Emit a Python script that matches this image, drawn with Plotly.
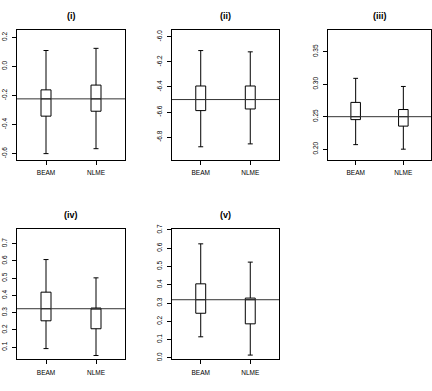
import plotly.graph_objects as go

groups = ["BEAM", "NLME"]
titles = ["(i)", "(ii)", "(iii)", "(iv)", "(v)"]

# per panel: [BEAM, NLME]
lower = [[-0.60, -0.566], [-6.876, -6.853], [0.207, 0.200], [0.092, 0.052], [0.115, 0.015]]
q1 = [[-0.342, -0.308], [-6.588, -6.575], [0.2455, 0.2355], [0.253, 0.207], [0.244, 0.186]]
q3 = [[-0.161, -0.128], [-6.392, -6.392], [0.272, 0.261], [0.419, 0.327], [0.405, 0.327]]
upper = [[0.110, 0.125], [-6.110, -6.120], [0.309, 0.2965], [0.608, 0.502], [0.624, 0.524]]
true_val = [-0.223, -6.50, 0.250, 0.323, 0.318]

yticks = [
    [-0.6, -0.4, -0.2, 0.0, 0.2],
    [-6.8, -6.6, -6.4, -6.2, -6.0],
    [0.20, 0.25, 0.30, 0.35],
    [0.1, 0.2, 0.3, 0.4, 0.5, 0.6, 0.7],
    [0.0, 0.1, 0.2, 0.3, 0.4, 0.5, 0.6, 0.7],
]
yticktext = [
    ["-0.6", "-0.4", "-0.2", "0.0", "0.2"],
    ["-6.8", "-6.6", "-6.4", "-6.2", "-6.0"],
    ["0.20", "0.25", "0.30", "0.35"],
    ["0.1", "0.2", "0.3", "0.4", "0.5", "0.6", "0.7"],
    ["0.0", "0.1", "0.2", "0.3", "0.4", "0.5", "0.6", "0.7"],
]
yranges = [[-0.641, 0.254], [-6.978, -5.943], [0.184, 0.384], [0.029, 0.788], [-0.009, 0.708]]

W, H = 432, 391
# frame pixel boxes (x0, x1, ytop, ybottom)
frames = [(17, 125, 26, 158), (172, 279, 26, 158), (328, 431, 26, 158),
          (17, 125, 228, 361), (172, 279, 228, 361)]
title_y = [12, 12, 12, 214, 214]

fig = go.Figure()
font = "Liberation Sans, Arial, sans-serif"
annotations = []
shapes = []
for i in range(5):
    ax = "" if i == 0 else str(i + 1)
    xa, ya = "x" + ax, "y" + ax
    for j, g in enumerate(groups):
        fig.add_trace(go.Box(
            x=[j + 1], q1=[q1[i][j]], median=[true_val[i]], q3=[q3[i][j]],
            lowerfence=[lower[i][j]], upperfence=[upper[i][j]],
            width=0.2, whiskerwidth=0.5, fillcolor="white",
            line=dict(color="black", width=1), boxpoints=False,
            hoverinfo="skip", showlegend=False, xaxis=xa, yaxis=ya))
    x0, x1, yt, yb = frames[i]
    dom_x = [x0 / W, x1 / W]
    dom_y = [(H - yb) / H, (H - yt) / H]
    fig.layout["xaxis" + ax] = dict(
        domain=dom_x, range=[0.42, 2.58], tickvals=[1, 2], ticktext=groups,
        showline=True, mirror=True, linecolor="black", linewidth=1,
        ticks="outside", ticklen=4, tickcolor="black", showgrid=False,
        zeroline=False, anchor=ya, ticklabelstandoff=3,
        tickfont=dict(size=6.5, family=font, color="black"),
        fixedrange=True)
    fig.layout["yaxis" + ax] = dict(
        domain=dom_y, range=yranges[i], tickvals=yticks[i], ticktext=yticktext[i],
        showline=True, mirror=True, linecolor="black", linewidth=1,
        ticks="outside", ticklen=4, tickcolor="black", showgrid=False,
        zeroline=False, anchor=xa, tickangle=-90, ticklabelstandoff=2,
        tickfont=dict(size=6.5, family=font, color="black"), fixedrange=True)
    shapes.append(dict(type="line", xref=xa + " domain", yref=ya, x0=0, x1=1,
                       y0=true_val[i], y1=true_val[i],
                       line=dict(color="#333333", width=1)))
    annotations.append(dict(text="<b>" + titles[i] + "</b>", xref="paper", yref="paper",
                            x=(x0 + x1) / 2 / W, y=(H - title_y[i]) / H,
                            showarrow=False, xanchor="center", yanchor="middle",
                            font=dict(size=9, family=font, color="black")))

fig.update_layout(width=W, height=H, margin=dict(l=0, r=0, t=0, b=0),
                  paper_bgcolor="white", plot_bgcolor="white",
                  shapes=shapes, annotations=annotations)
fig.write_html("out.html")
